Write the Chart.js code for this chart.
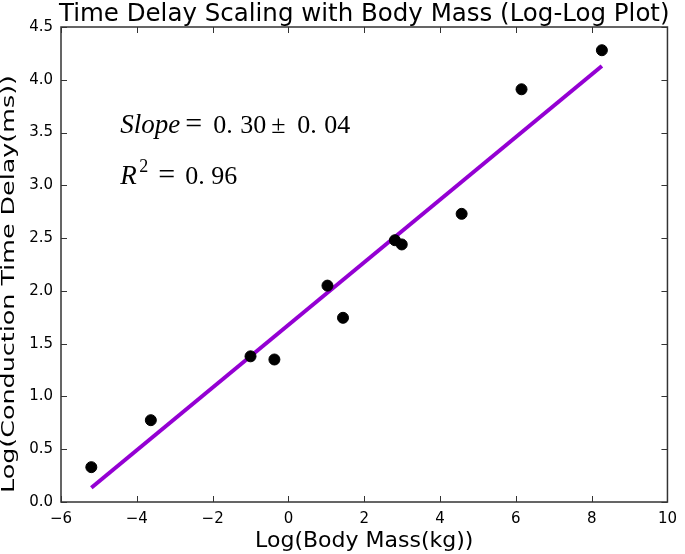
<!DOCTYPE html>
<html>
<head>
<meta charset="utf-8">
<script src="https://cdn.jsdelivr.net/npm/chart.js@4.4.0/dist/chart.umd.min.js"></script>
<style>
  html, body { margin: 0; padding: 0; background: #fff; }
  #wrap { width: 685px; height: 554px; }
</style>
</head>
<body>
<div id="wrap"><canvas id="scatterChart"></canvas></div>
<script>
// log body mass (kg) vs log conduction time delay (ms)
var logMass  = [-5.2, -3.63, -1.0, -0.37, 1.03, 1.44, 2.81, 2.99, 4.57, 6.15, 8.27];
var logDelay = [0.33, 0.775, 1.38, 1.35, 2.05, 1.745, 2.48, 2.44, 2.73, 3.91, 4.28];

// fitted line end points
var fitX = [-5.2, 8.27];
var fitY = [0.135, 4.13];

var xTicks = [-6, -4, -2, 0, 2, 4, 6, 8, 10];
var yTicks = [0.0, 0.5, 1.0, 1.5, 2.0, 2.5, 3.0, 3.5, 4.0, 4.5];

var chartTitle = 'Time Delay Scaling with Body Mass (Log-Log Plot)';
var yLabel = 'Log(Conduction Time Delay(ms))';

var points = logMass.map(function (x, i) { return { x: x, y: logDelay[i] }; });
var fitLine = fitX.map(function (x, i) { return { x: x, y: fitY[i] }; });

// draw a list of [text, offset, font, dy] pieces on one baseline
function drawPieces(ctx, x0, y, pieces) {
    pieces.forEach(function (p) {
        ctx.font = p[2];
        ctx.fillText(p[0], x0 + p[1], y + (p[3] || 0));
    });
}

// frame + inward ticks on all four sides (matplotlib classic look), titles, annotation
var framePlugin = {
    id: 'frame',
    afterDraw: function (chart) {
        var ctx = chart.ctx;
        var a = chart.chartArea;
        var xs = chart.scales.x, ys = chart.scales.y;
        var len = 6;
        ctx.save();
        ctx.strokeStyle = '#333';
        ctx.lineWidth = 1.5;
        ctx.strokeRect(a.left, a.top, a.right - a.left, a.bottom - a.top);
        ctx.lineWidth = 1;
        ctx.beginPath();
        xTicks.forEach(function (v) {
            var px = Math.round(xs.getPixelForValue(v)) + 0.5;
            ctx.moveTo(px, a.bottom); ctx.lineTo(px, a.bottom - len);
            ctx.moveTo(px, a.top); ctx.lineTo(px, a.top + len);
        });
        yTicks.forEach(function (v) {
            var py = Math.round(ys.getPixelForValue(v)) + 0.5;
            ctx.moveTo(a.left, py); ctx.lineTo(a.left + len, py);
            ctx.moveTo(a.right, py); ctx.lineTo(a.right - len, py);
        });
        ctx.stroke();

        // title centred over the plot area
        ctx.fillStyle = '#000';
        ctx.textAlign = 'center';
        ctx.textBaseline = 'alphabetic';
        ctx.font = '24.5px "DejaVu Sans"';
        ctx.fillText(chartTitle, (a.left + a.right) / 2, a.top - 6);

        // y axis label (stretched along its length like the original)
        ctx.save();
        ctx.font = '18px "DejaVu Sans"';
        ctx.textBaseline = 'middle';
        var tw = ctx.measureText(yLabel).width;
        ctx.translate(9, 284);
        ctx.rotate(-Math.PI / 2);
        ctx.scale(418 / tw, 1);
        ctx.fillText(yLabel, 0, 0);
        ctx.restore();

        // annotation text
        ctx.textAlign = 'left';
        ctx.textBaseline = 'alphabetic';
        var up = '26px "Liberation Serif"';
        var eq = '30px "Liberation Serif"';
        var tx = xs.getPixelForValue(-4.44);
        var y1 = ys.getPixelForValue(3.50);
        var y2 = ys.getPixelForValue(3.01);
        drawPieces(ctx, tx, y1, [
            ['Slope', 0, 'italic 27px "Liberation Serif"'], ['=', 65, eq], ['0.', 93, up], ['30', 120, up],
            ['\u00b1', 151, up], ['0.', 177, up], ['04', 204, up]
        ]);
        drawPieces(ctx, tx, y2, [
            ['R', 0, 'italic 27px "Liberation Serif"'], ['2', 19, '18px "Liberation Serif"', -12],
            ['=', 38, eq], ['0.', 65, up], ['96', 91, up]
        ]);
        ctx.restore();
    }
};

var ctx = document.getElementById('scatterChart').getContext('2d');
var chart = new Chart(ctx, {
    type: 'scatter',
    data: {
        datasets: [{
            label: 'fit',
            type: 'line',
            data: fitLine,
            borderColor: '#9400D3',
            borderWidth: 4,
            pointRadius: 0,
            fill: false,
            order: 2
        }, {
            label: 'data',
            data: points,
            backgroundColor: '#000',
            borderColor: '#000',
            pointRadius: 5.5,
            order: 1
        }]
    },
    options: {
        responsive: true,
        maintainAspectRatio: false,
        animation: false,
        layout: { padding: { left: 0, right: 9, top: 27, bottom: 0 } },
        plugins: {
            legend: { display: false },
            tooltip: { enabled: false },
            title: { display: false }
        },
        scales: {
            x: {
                type: 'linear',
                min: -6,
                max: 10,
                afterBuildTicks: function (s) { s.ticks = xTicks.map(function (v) { return { value: v }; }); },
                afterFit: function (s) { s.height = 52; },
                grid: { display: false, drawTicks: false },
                border: { display: false },
                ticks: {
                    color: '#000',
                    padding: 8,
                    font: { family: 'DejaVu Sans', size: 15 },
                    callback: function (v) { return v < 0 ? '\u2212' + Math.abs(v) : String(v); }
                },
                title: {
                    display: true,
                    text: 'Log(Body Mass(kg))',
                    color: '#000',
                    font: { family: 'DejaVu Sans', size: 22 },
                    padding: { top: 0, bottom: 0 }
                }
            },
            y: {
                type: 'linear',
                min: 0,
                max: 4.5,
                afterBuildTicks: function (s) { s.ticks = yTicks.map(function (v) { return { value: v }; }); },
                afterFit: function (s) { s.width = 61; },
                grid: { display: false, drawTicks: false },
                border: { display: false },
                ticks: {
                    color: '#000',
                    padding: 8,
                    font: { family: 'DejaVu Sans', size: 15 },
                    callback: function (v) { return v.toFixed(1); }
                },
                title: { display: false }
            }
        }
    },
    plugins: [framePlugin]
});
</script>
</body>
</html>
